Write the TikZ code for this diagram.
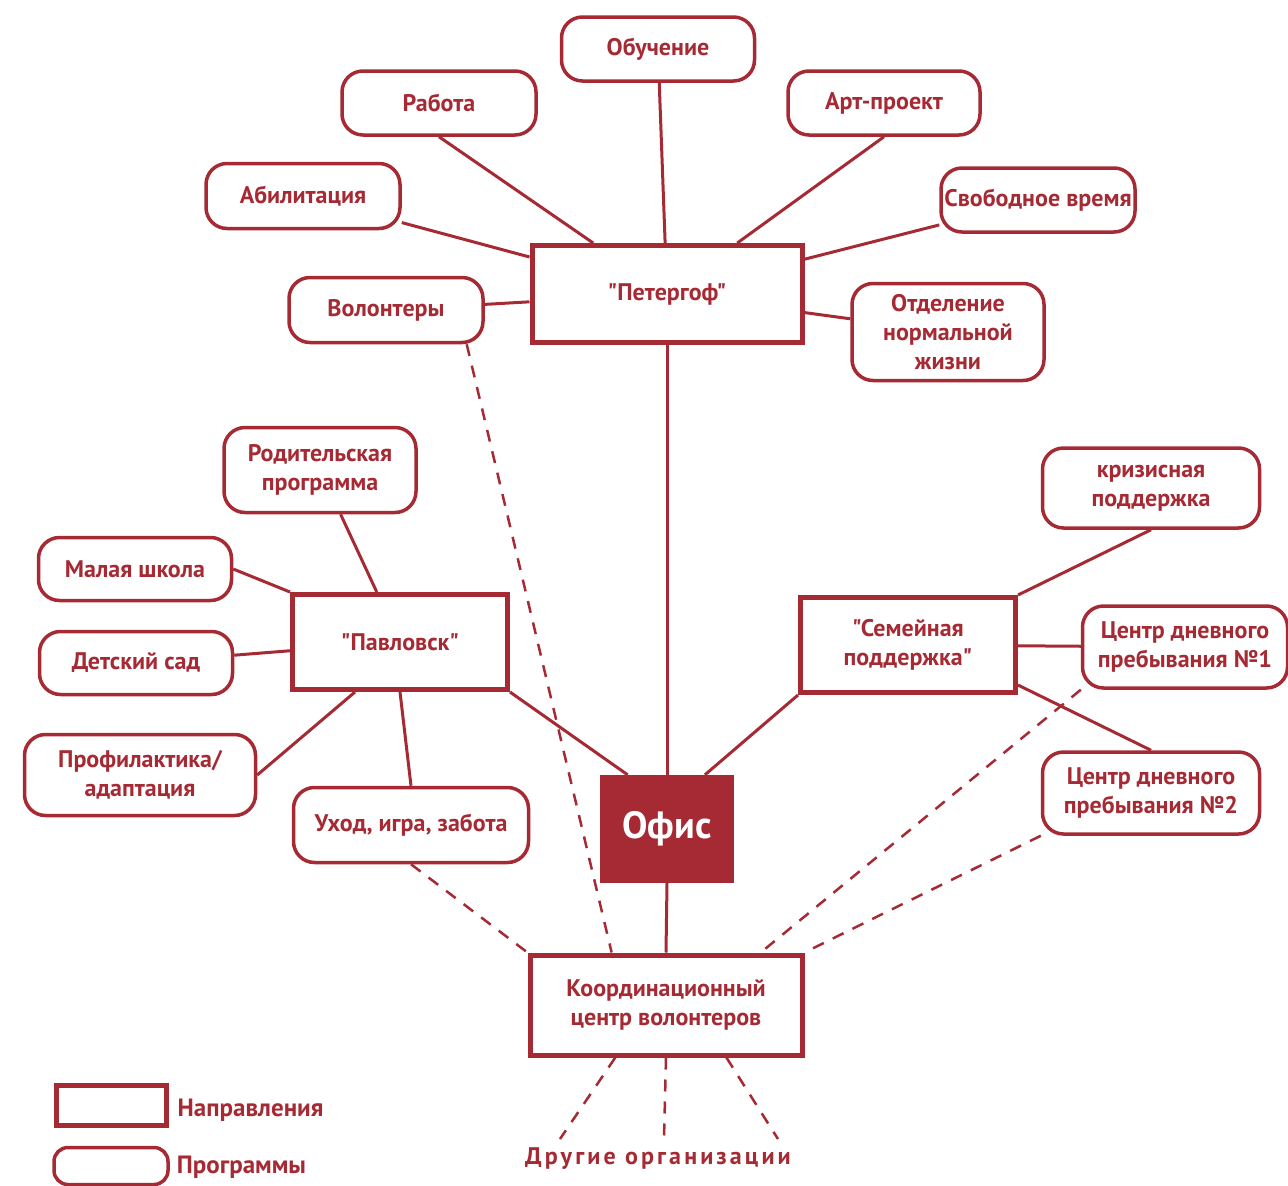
\documentclass[tikz,border=0pt]{standalone}
\usepackage{fontspec}
\setmainfont{PT Sans}[Ligatures=TeXOff]
\usepackage{tikz}
\usetikzlibrary{positioning}
\definecolor{krasn}{RGB}{165,42,52}
\tikzstyle{napr}=[rectangle,draw=krasn,line width=5pt,text=krasn,align=center,inner sep=0pt,font=\bfseries\fontsize{24}{29}\selectfont]
\tikzstyle{progr}=[rectangle,rounded corners=21pt,draw=krasn,line width=3.5pt,text=krasn,align=center,inner sep=0pt,font=\bfseries\fontsize{24}{29}\selectfont]
\tikzstyle{leg}=[text=krasn,inner sep=0pt,anchor=west,font=\bfseries\fontsize{25}{29}\selectfont]
\tikzstyle{svyaz}=[draw=krasn,line width=3pt]
\tikzstyle{punkt}=[draw=krasn,line width=2.5pt,dash pattern=on 12pt off 10pt]

\begin{document}
\begin{tikzpicture}[x=1pt,y=-1pt]
\useasboundingbox (0,0) rectangle (1288,1186);
\node[napr,minimum width=270,minimum height=97] (P) at (667,294) {"Петергоф"};
\node[napr,minimum width=215,minimum height=95] (Pv) at (400,642) {"Павловск"};
\node[napr,minimum width=215,minimum height=95] (S) at (908,645) {"Семейная\\поддержка"};
\node[napr,minimum width=272,minimum height=100] (Kc) at (666,1005) {Координационный\\центр волонтеров};
\node[rectangle,fill=krasn,text=white,minimum width=134,minimum height=108,font=\bfseries\fontsize{38}{44}\selectfont] (Of) at (667,829) {Офис};
\node[progr,minimum width=193,minimum height=64] (Ob) at (658,49) {Обучение};
\node[progr,minimum width=194,minimum height=64] (R) at (439,103) {Работа};
\node[progr,minimum width=192,minimum height=64] (Art) at (884,103) {Арт-проект};
\node[progr,minimum width=194,minimum height=65] (Ab) at (303,196) {Абилитация};
\node[progr,minimum width=194,minimum height=64] (Sv) at (1038,200) {Свободное время};
\node[progr,minimum width=194,minimum height=65] (V) at (386,310) {Волонтеры};
\node[progr,minimum width=192,minimum height=97] (Otd) at (948,332) {Отделение\\нормальной\\жизни};
\node[progr,minimum width=192,minimum height=85] (Rp) at (320,470) {Родительская\\программа};
\node[progr,minimum width=193,minimum height=63] (M) at (135,569) {Малая школа};
\node[progr,minimum width=193,minimum height=63] (D) at (136,663) {Детский сад};
\node[progr,minimum width=231,minimum height=81] (Pf) at (140,775) {Профилактика/\\адаптация};
\node[progr,minimum width=235,minimum height=75] (U) at (411,825) {Уход, игра, забота};
\node[progr,minimum width=217,minimum height=80] (K) at (1151,488) {кризисная\\поддержка};
\node[progr,minimum width=205,minimum height=82] (C1) at (1185,647) {Центр дневного\\пребывания №1};
\node[progr,minimum width=217,minimum height=82] (C2) at (1151,793) {Центр дневного\\пребывания №2};
\node[text=krasn,inner sep=0pt,font=\bfseries\fontsize{24}{29}\selectfont\addfontfeature{LetterSpace=13}] (Dr) at (658,1159) {Другие организации};
\coordinate (d1) at (560,1139);\coordinate (d2) at (664,1139);\coordinate (d3) at (778,1139);
\node[napr,minimum width=110,minimum height=40] (Ln) at (111,1105) {};
\node[leg,right=9pt of Ln,yshift=-5pt] (Lnt) {Направления};
\node[progr,rounded corners=14pt,minimum width=114,minimum height=37] (Lp) at (111,1166) {};
\node[leg,right=7pt of Lp,yshift=-1pt] (Lpt) {Программы};
\draw[svyaz](P)--(Ob);\draw[svyaz](P)--(R.south);\draw[svyaz](P)--(Art.south);\draw[svyaz](P)--(Ab);\draw[svyaz](P)--(Sv);
\draw[svyaz](P)--(V);\draw[svyaz](P)--(Otd);\draw[svyaz](P.south)--(Of.north);
\draw[svyaz](Pv)--(Rp);\draw[svyaz](M.east)--(Pv.north west);\draw[svyaz](Pv)--(D);\draw[svyaz](Pv.228)--(Pf.east);\draw[svyaz](Pv.south)--(U.north);
\draw[svyaz](Pv.south east)--(Of.126);\draw[svyaz](S.south west)--(Of.55);
\draw[svyaz](S.north east)--(K.south);\draw[svyaz](S)--(C1);\draw[svyaz](S.-20)--(C2.north);\draw[svyaz](Of.south)--(Kc.north);
\draw[punkt](V.-23)--(Kc.136);\draw[punkt](U.south)--(Kc.north west);\draw[punkt](C1.south west)--(Kc.29);\draw[punkt](C2.south west)--(Kc.north east);
\draw[punkt](Kc.226)--(d1);\draw[punkt](Kc.south)--(d2);\draw[punkt](Kc.-41)--(d3);
\end{tikzpicture}
\end{document}
